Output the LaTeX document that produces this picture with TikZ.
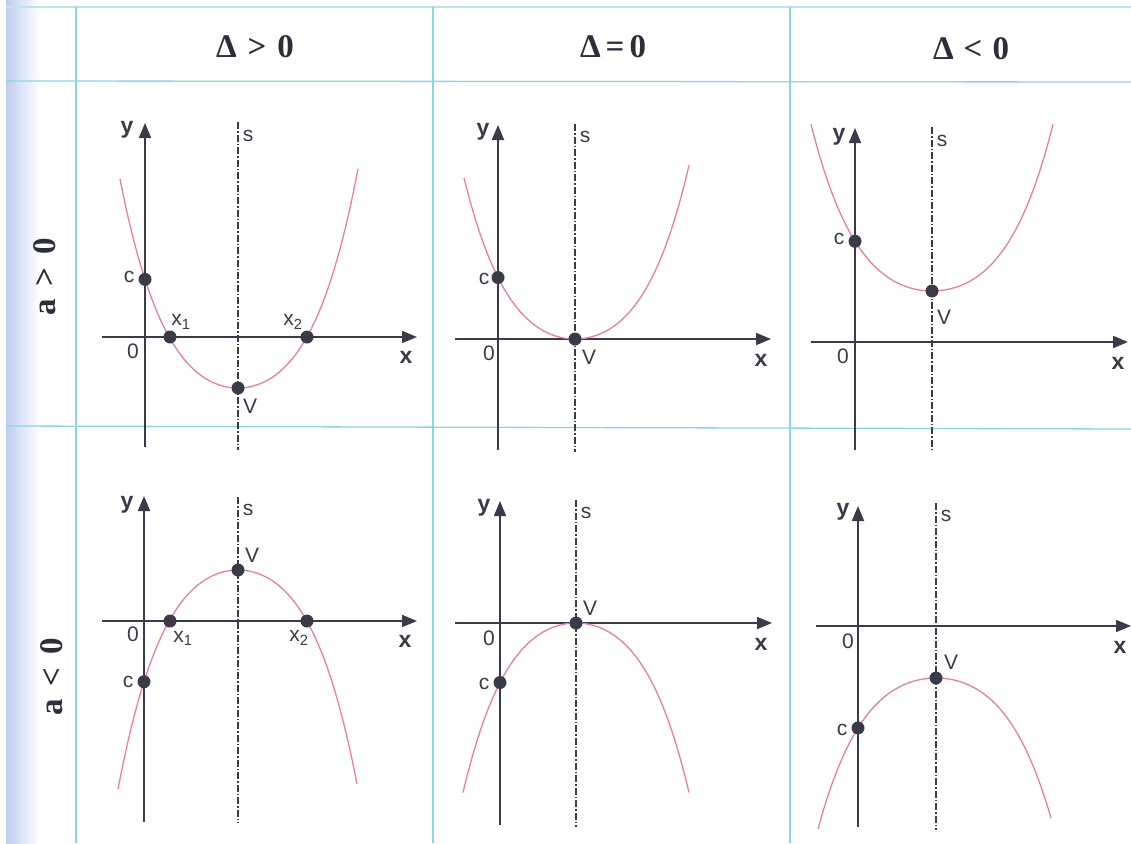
\documentclass[tikz,border=0pt]{standalone}
\usepackage{fontspec}
\setmainfont{Liberation Serif}
\setsansfont{Liberation Sans}
\usetikzlibrary{arrows.meta}
\definecolor{gridc}{RGB}{140,215,222}
\definecolor{axisc}{RGB}{58,58,72}
\definecolor{curvec}{RGB}{226,128,165}
\definecolor{stripc}{RGB}{190,205,240}
\begin{document}
\begin{tikzpicture}[x=1pt,y=-1pt,
 declare function={pf(\d)=88.23*(\d/100)*(\d/100)+47.71*(\d/100)*(\d/100)*(\d/100)*(\d/100);},
 gridline/.style={draw=gridc, line width=1.3pt},
 axisline/.style={draw=axisc, line width=1.8pt, -{Triangle[length=15pt,width=12pt]}},
 symline/.style={draw=axisc, line width=1.1pt, dash pattern=on 7pt off 2pt on 1.5pt off 2pt},
 curveline/.style={draw=curvec, line width=1.3pt},
 dotpt/.style={circle, fill=axisc, inner sep=0pt, minimum size=13pt},
 lab/.style={font=\sffamily\fontsize{21}{21}\selectfont, text=axisc, inner sep=0pt},
 blab/.style={font=\sffamily\bfseries\fontsize{23}{23}\selectfont, text=axisc, inner sep=0pt},
 head/.style={font=\bfseries\fontsize{33}{33}\selectfont, text=axisc!80!black, inner sep=0pt},
]
\useasboundingbox (0,0) rectangle (1131,843);
\fill[white] (0,0) rectangle (1131,843);
% left shaded strip
\shade[left color=stripc, right color=white] (6,0) rectangle (40,843);
% grid
\coordinate (gT1) at (6,7);   \coordinate (gT2) at (1131,7);
\coordinate (gH1) at (6,81);  \coordinate (gH2) at (1131,82);
\coordinate (gM1) at (6,426); \coordinate (gM2) at (1131,429);
\coordinate (gV1t) at (76,7);  \coordinate (gV1b) at (76,843);
\coordinate (gV2t) at (433,7); \coordinate (gV2b) at (433,843);
\coordinate (gV3t) at (790,7); \coordinate (gV3b) at (790,843);
\draw[gridline, draw=gridc!60] (gT1) -- (gT2);
\draw[gridline] (gH1) -- (gH2);
\draw[gridline] (gM1) -- (gM2);
\draw[gridline] (gV1t) -- (gV1b);
\draw[gridline] (gV2t) -- (gV2b);
\draw[gridline] (gV3t) -- (gV3b);
% headers
\node[head] (h1) at (255,47) {Δ\hspace{11pt}>\hspace{11pt}0};
\node[head] (h2) at (613,47) {Δ\hspace{5pt}=\hspace{5pt}0};
\node[head] (h3) at (971,49) {Δ\hspace{10pt}<\hspace{10pt}0};
\node[head, rotate=90] (r1) at (45,277) {a\hspace{13pt}>\hspace{13pt}0};
\node[head, rotate=90] (r2) at (52,677) {a\hspace{13pt}<\hspace{13pt}0};

% ===== Top-left =====
\coordinate (tlYb) at (145,447); \coordinate (tlYt) at (145,123);
\coordinate (tlXl) at (102,337); \coordinate (tlXr) at (417,337);
\coordinate (tlSt) at (238,122); \coordinate (tlSb) at (238,450);
\draw[symline] (tlSt) -- (tlSb);
\draw[axisline] (tlYb) -- (tlYt);
\draw[axisline] (tlXl) -- (tlXr);
\draw[curveline] plot[domain=-118:120,samples=90] ({238+\x},{388-0.97*pf(\x)});
\node[dotpt] (tlC) at (145,{388-0.97*pf(-93)}) {};
\node[dotpt] (tlX1) at (170,337) {};
\node[dotpt] (tlX2) at (307,337) {};
\node[dotpt] (tlV) at (238,388) {};
\node[blab] (tly) at (127,130) {y};
\node[lab] (tls) at (248,136) {s};
\node[lab] (tlc) at (129,277) {c};
\node[lab] (tlx1) at (181,322) {x\textsubscript{1}};
\node[lab] (tlx2) at (293,322) {x\textsubscript{2}};
\node[lab] (tl0) at (133,351) {0};
\node[blab] (tlx) at (406,357) {x};
\node[lab] (tlVl) at (250,406) {V};

% ===== Top-middle =====
\coordinate (tmYb) at (498,450); \coordinate (tmYt) at (498,125);
\coordinate (tmXl) at (455,339); \coordinate (tmXr) at (771,339);
\coordinate (tmSt) at (575,124); \coordinate (tmSb) at (575,452);
\draw[symline] (tmSt) -- (tmSb);
\draw[axisline] (tmYb) -- (tmYt);
\draw[axisline] (tmXl) -- (tmXr);
\draw[curveline] plot[domain=-111:114,samples=90] ({575+\x},{339-0.89*pf(\x)});
\node[dotpt] (tmC) at (498,{339-0.89*pf(-77)}) {};
\node[dotpt] (tmV) at (575,339) {};
\node[blab] (tmy) at (483,132) {y};
\node[lab] (tms) at (585,137) {s};
\node[lab] (tmc) at (484,279) {c};
\node[lab] (tm0) at (489,353) {0};
\node[lab] (tmVl) at (589,357) {V};
\node[blab] (tmx) at (761,360) {x};

% ===== Top-right =====
\coordinate (trYb) at (855,450); \coordinate (trYt) at (855,128);
\coordinate (trXl) at (811,342); \coordinate (trXr) at (1128,342);
\coordinate (trSt) at (932,127); \coordinate (trSb) at (932,452);
\draw[symline] (trSt) -- (trSb);
\draw[axisline] (trYb) -- (trYt);
\draw[axisline] (trXl) -- (trXr);
\draw[curveline] plot[domain=-121:121,samples=90] ({932+\x},{291-0.72*pf(\x)});
\node[dotpt] (trC) at (855,{291-0.72*pf(-77)}) {};
\node[dotpt] (trV) at (932,291) {};
\node[blab] (try) at (839,137) {y};
\node[lab] (trs) at (942,141) {s};
\node[lab] (trc) at (839,239) {c};
\node[lab] (tr0) at (843,356) {0};
\node[lab] (trVl) at (944,317) {V};
\node[blab] (trx) at (1118,363) {x};

% ===== Bottom-left =====
\coordinate (blYb) at (144,822); \coordinate (blYt) at (144,496);
\coordinate (blXl) at (102,621); \coordinate (blXr) at (417,621);
\coordinate (blSt) at (238,497); \coordinate (blSb) at (238,823);
\draw[symline] (blSt) -- (blSb);
\draw[axisline] (blYb) -- (blYt);
\draw[axisline] (blXl) -- (blXr);
\draw[curveline] plot[domain=-120:119,samples=90] ({238+\x},{570+0.97*pf(\x)});
\node[dotpt] (blC) at (144,{570+0.97*pf(-94)}) {};
\node[dotpt] (blX1) at (170,621) {};
\node[dotpt] (blX2) at (307,621) {};
\node[dotpt] (blV) at (238,570) {};
\node[blab] (bly) at (127,505) {y};
\node[lab] (bls) at (248,510) {s};
\node[lab] (blVl) at (252,555) {V};
\node[lab] (bl0) at (133,634) {0};
\node[lab] (blx1) at (183,638) {x\textsubscript{1}};
\node[lab] (blx2) at (299,638) {x\textsubscript{2}};
\node[blab] (blx) at (405,641) {x};
\node[lab] (blc) at (128,682) {c};

% ===== Bottom-middle =====
\coordinate (bmYb) at (500,825); \coordinate (bmYt) at (500,501);
\coordinate (bmXl) at (455,623); \coordinate (bmXr) at (772,623);
\coordinate (bmSt) at (576,500); \coordinate (bmSb) at (576,827);
\draw[symline] (bmSt) -- (bmSb);
\draw[axisline] (bmYb) -- (bmYt);
\draw[axisline] (bmXl) -- (bmXr);
\draw[curveline] plot[domain=-113:113,samples=90] ({576+\x},{623+0.89*pf(\x)});
\node[dotpt] (bmC) at (500,{623+0.89*pf(-76)}) {};
\node[dotpt] (bmV) at (576,623) {};
\node[blab] (bmy) at (484,508) {y};
\node[lab] (bms) at (586,513) {s};
\node[lab] (bmVl) at (590,608) {V};
\node[lab] (bm0) at (489,638) {0};
\node[blab] (bmx) at (761,644) {x};
\node[lab] (bmc) at (484,684) {c};

% ===== Bottom-right =====
\coordinate (brYb) at (858,827); \coordinate (brYt) at (858,506);
\coordinate (brXl) at (816,626); \coordinate (brXr) at (1131,626);
\coordinate (brSt) at (936,503); \coordinate (brSb) at (936,830);
\draw[symline] (brSt) -- (brSb);
\draw[axisline] (brYb) -- (brYt);
\draw[axisline] (brXl) -- (brXr);
\draw[curveline] plot[domain=-118:115,samples=90] ({936+\x},{678+0.70*pf(\x)});
\node[dotpt] (brC) at (858,{678+0.70*pf(-78)}) {};
\node[dotpt] (brV) at (936,678) {};
\node[blab] (bry) at (843,512) {y};
\node[lab] (brs) at (946,516) {s};
\node[lab] (brVl) at (951,662) {V};
\node[lab] (br0) at (848,641) {0};
\node[blab] (brx) at (1120,647) {x};
\node[lab] (brc) at (842,730) {c};
\end{tikzpicture}
\end{document}
